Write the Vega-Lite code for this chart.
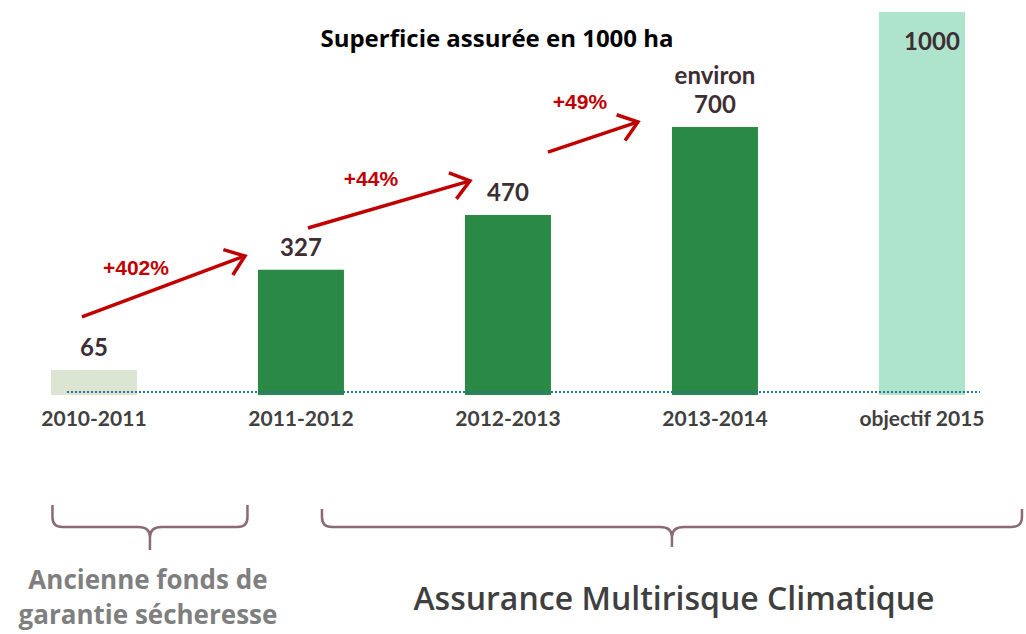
{
  "$schema": "https://vega.github.io/schema/vega-lite/v6.json",
  "width": 1026,
  "height": 383,
  "autosize": {"type": "none"},
  "padding": {"top": 12, "left": 0, "right": 0, "bottom": 239},
  "background": "white",
  "title": {
    "text": "Superficie assurée en 1000 ha",
    "anchor": "middle",
    "frame": "group",
    "offset": 0,
    "dy": 52,
    "dx": -16,
    "baseline": "middle",
    "font": "Open Sans",
    "fontSize": 24,
    "fontWeight": "bold",
    "color": "#000000"
  },
  "config": {"view": {"stroke": null}},
  "datasets": {
    "periodes": [
      {"period": "2010-2011", "value": 65, "phase": "Ancien fonds"},
      {"period": "2011-2012", "value": 327, "phase": "Réalisé"},
      {"period": "2012-2013", "value": 470, "phase": "Réalisé"},
      {"period": "2013-2014", "value": 700, "phase": "Réalisé", "note": "environ"},
      {"period": "objectif 2015", "value": 1000, "phase": "Objectif"}
    ],
    "hausses": [
      {"from": "2010-2011", "to": "2011-2012", "start": 204, "end": 363, "label": "+402%", "label_at": 329},
      {"from": "2011-2012", "to": "2012-2013", "start": 436, "end": 559, "label": "+44%", "label_at": 561},
      {"from": "2012-2013", "to": "2013-2014", "start": 634, "end": 713, "label": "+49%", "label_at": 762}
    ],
    "groupes": [
      {"group": "Ancienne fonds de\ngarantie sécheresse", "anchor": "2010-2011"},
      {"group": "Assurance Multirisque Climatique", "anchor": "2013-2014"}
    ],
    "base": [{"ligne": "zéro"}]
  },
  "layer": [
    {
      "data": {"name": "periodes"},
      "mark": {"type": "bar"},
      "encoding": {
        "x": {
          "field": "period",
          "type": "nominal",
          "sort": null,
          "title": null,
          "scale": {
            "type": "band",
            "domain": ["2010-2011", "2011-2012", "2012-2013", "2013-2014", "objectif 2015"],
            "paddingInner": 0.5845,
            "paddingOuter": 0.2705,
            "align": 0.455
          },
          "axis": {
            "labelFont": "Lato",
            "labelFontSize": 21,
            "labelFontWeight": "bold",
            "labelColor": "#404040",
            "domain": false,
            "ticks": false,
            "labelPadding": 13,
            "labelAngle": 0,
            "title": null
          }
        },
        "y": {
          "field": "value",
          "type": "quantitative",
          "scale": {"domain": [0, 1000], "nice": false, "zero": true},
          "axis": null
        },
        "color": {
          "field": "phase",
          "type": "nominal",
          "scale": {"domain": ["Ancien fonds", "Réalisé", "Objectif"], "range": ["#dce4d2", "#2a8a45", "#ade4cb"]},
          "legend": null
        }
      }
    },
    {
      "data": {"name": "base"},
      "mark": {"type": "rule", "strokeDash": [2, 2], "strokeWidth": 1.8, "color": "#2a6f97", "xOffset": -27, "x2Offset": 58, "yOffset": -3},
      "encoding": {
        "x": {"datum": "2010-2011", "type": "nominal"},
        "x2": {"datum": "objectif 2015"},
        "y": {"datum": 0, "type": "quantitative"}
      }
    },
    {
      "data": {"name": "periodes"},
      "transform": [{"filter": "datum.phase !== 'Objectif'"}],
      "mark": {"type": "text", "font": "Lato", "fontSize": 24, "fontWeight": "bold", "color": "#3d2e34", "baseline": "alphabetic", "dy": -14},
      "encoding": {
        "x": {"field": "period", "type": "nominal", "title": null},
        "y": {"field": "value", "type": "quantitative"},
        "text": {"field": "value", "type": "quantitative", "format": "d"}
      }
    },
    {
      "data": {"name": "periodes"},
      "transform": [{"filter": "datum.phase === 'Objectif'"}],
      "mark": {"type": "text", "font": "Lato", "fontSize": 24, "fontWeight": "bold", "color": "#3d2e34", "baseline": "alphabetic", "dy": 38, "xOffset": 10},
      "encoding": {
        "x": {"field": "period", "type": "nominal", "title": null},
        "y": {"field": "value", "type": "quantitative"},
        "text": {"field": "value", "type": "quantitative", "format": "d"}
      }
    },
    {
      "data": {"name": "periodes"},
      "transform": [{"filter": "isValid(datum.note)"}],
      "mark": {"type": "text", "font": "Lato", "fontSize": 24, "fontWeight": "bold", "color": "#3d2e34", "baseline": "alphabetic", "dy": -43},
      "encoding": {
        "x": {"field": "period", "type": "nominal", "title": null},
        "y": {"field": "value", "type": "quantitative"},
        "text": {"field": "note", "type": "nominal"}
      }
    },
    {
      "data": {"name": "hausses"},
      "transform": [{"filter": "datum.from === '2010-2011'"}],
      "layer": [
        {
          "mark": {"type": "rule", "color": "#c00000", "strokeWidth": 3.5, "xOffset": -12, "x2Offset": -56},
          "encoding": {
            "x": {"field": "from", "type": "nominal", "title": null},
            "x2": {"field": "to"},
            "y": {"field": "start", "type": "quantitative"},
            "y2": {"field": "end"}
          }
        },
        {
          "mark": {"type": "point", "shape": "M -1 -0.75 L 0 0 L -1 0.75", "size": 1300, "filled": false, "color": "#c00000", "strokeWidth": 3.5, "opacity": 1, "angle": -20.5, "xOffset": -56},
          "encoding": {
            "x": {"field": "to", "type": "nominal", "title": null},
            "y": {"field": "end", "type": "quantitative"}
          }
        },
        {
          "mark": {"type": "text", "font": "Liberation Sans", "fontSize": 21, "fontWeight": "bold", "color": "#c00000", "baseline": "middle", "xOffset": 42},
          "encoding": {
            "x": {"field": "from", "type": "nominal", "title": null},
            "y": {"field": "label_at", "type": "quantitative"},
            "text": {"field": "label", "type": "nominal"}
          }
        }
      ]
    },
    {
      "data": {"name": "hausses"},
      "transform": [{"filter": "datum.from === '2011-2012'"}],
      "layer": [
        {
          "mark": {"type": "rule", "color": "#c00000", "strokeWidth": 3.5, "xOffset": 7, "x2Offset": -38},
          "encoding": {
            "x": {"field": "from", "type": "nominal", "title": null},
            "x2": {"field": "to"},
            "y": {"field": "start", "type": "quantitative"},
            "y2": {"field": "end"}
          }
        },
        {
          "mark": {"type": "point", "shape": "M -1 -0.75 L 0 0 L -1 0.75", "size": 1300, "filled": false, "color": "#c00000", "strokeWidth": 3.5, "opacity": 1, "angle": -16.2, "xOffset": -38},
          "encoding": {
            "x": {"field": "to", "type": "nominal", "title": null},
            "y": {"field": "end", "type": "quantitative"}
          }
        },
        {
          "mark": {"type": "text", "font": "Liberation Sans", "fontSize": 21, "fontWeight": "bold", "color": "#c00000", "baseline": "middle", "xOffset": 70},
          "encoding": {
            "x": {"field": "from", "type": "nominal", "title": null},
            "y": {"field": "label_at", "type": "quantitative"},
            "text": {"field": "label", "type": "nominal"}
          }
        }
      ]
    },
    {
      "data": {"name": "hausses"},
      "transform": [{"filter": "datum.from === '2012-2013'"}],
      "layer": [
        {
          "mark": {"type": "rule", "color": "#c00000", "strokeWidth": 3.5, "xOffset": 40, "x2Offset": -77},
          "encoding": {
            "x": {"field": "from", "type": "nominal", "title": null},
            "x2": {"field": "to"},
            "y": {"field": "start", "type": "quantitative"},
            "y2": {"field": "end"}
          }
        },
        {
          "mark": {"type": "point", "shape": "M -1 -0.75 L 0 0 L -1 0.75", "size": 1300, "filled": false, "color": "#c00000", "strokeWidth": 3.5, "opacity": 1, "angle": -18.4, "xOffset": -77},
          "encoding": {
            "x": {"field": "to", "type": "nominal", "title": null},
            "y": {"field": "end", "type": "quantitative"}
          }
        },
        {
          "mark": {"type": "text", "font": "Liberation Sans", "fontSize": 21, "fontWeight": "bold", "color": "#c00000", "baseline": "middle", "xOffset": 72},
          "encoding": {
            "x": {"field": "from", "type": "nominal", "title": null},
            "y": {"field": "label_at", "type": "quantitative"},
            "text": {"field": "label", "type": "nominal"}
          }
        }
      ]
    },
    {
      "data": {"name": "groupes"},
      "transform": [{"filter": "datum.anchor === '2010-2011'"}],
      "layer": [
        {
          "mark": {"type": "point", "shape": "M -1 -0.226 L -1 -0.103 Q -1 0 -0.897 0 L -0.123 0 Q 0 0 0 0.103 L 0 0.236 M 0 0.103 Q 0 0 0.123 0 L 0.897 0 Q 1 0 1 -0.103 L 1 -0.226", "size": 38025, "filled": false, "color": "#8c6a74", "strokeWidth": 2.5, "opacity": 1, "xOffset": 56, "yOffset": 132},
          "encoding": {
            "x": {"field": "anchor", "type": "nominal", "title": null},
            "y": {"datum": 0, "type": "quantitative"}
          }
        },
        {
          "mark": {"type": "text", "font": "Open Sans", "fontSize": 26, "fontWeight": "bold", "color": "#7f7f7f", "baseline": "middle", "align": "center", "lineBreak": "\n", "lineHeight": 35, "xOffset": 54, "yOffset": 186},
          "encoding": {
            "x": {"field": "anchor", "type": "nominal", "title": null},
            "y": {"datum": 0, "type": "quantitative"},
            "text": {"field": "group", "type": "nominal"}
          }
        }
      ]
    },
    {
      "data": {"name": "groupes"},
      "transform": [{"filter": "datum.anchor === '2013-2014'"}],
      "layer": [
        {
          "mark": {"type": "point", "shape": "M -1 -0.0514 L -1 -0.0286 Q -1 0 -0.9714 0 L -0.0343 0 Q 0 0 0 0.0286 L 0 0.057 M 0 0.0286 Q 0 0 0.0343 0 L 0.9714 0 Q 1 0 1 -0.0286 L 1 -0.0514", "size": 490000, "filled": false, "color": "#8c6a74", "strokeWidth": 2.5, "opacity": 1, "xOffset": -43, "yOffset": 132},
          "encoding": {
            "x": {"field": "anchor", "type": "nominal", "title": null},
            "y": {"datum": 0, "type": "quantitative"}
          }
        },
        {
          "mark": {"type": "text", "font": "Open Sans", "fontSize": 32, "fontWeight": 600, "color": "#3f3f3f", "baseline": "middle", "align": "center", "xOffset": -41, "yOffset": 205},
          "encoding": {
            "x": {"field": "anchor", "type": "nominal", "title": null},
            "y": {"datum": 0, "type": "quantitative"},
            "text": {"field": "group", "type": "nominal"}
          }
        }
      ]
    }
  ]
}
